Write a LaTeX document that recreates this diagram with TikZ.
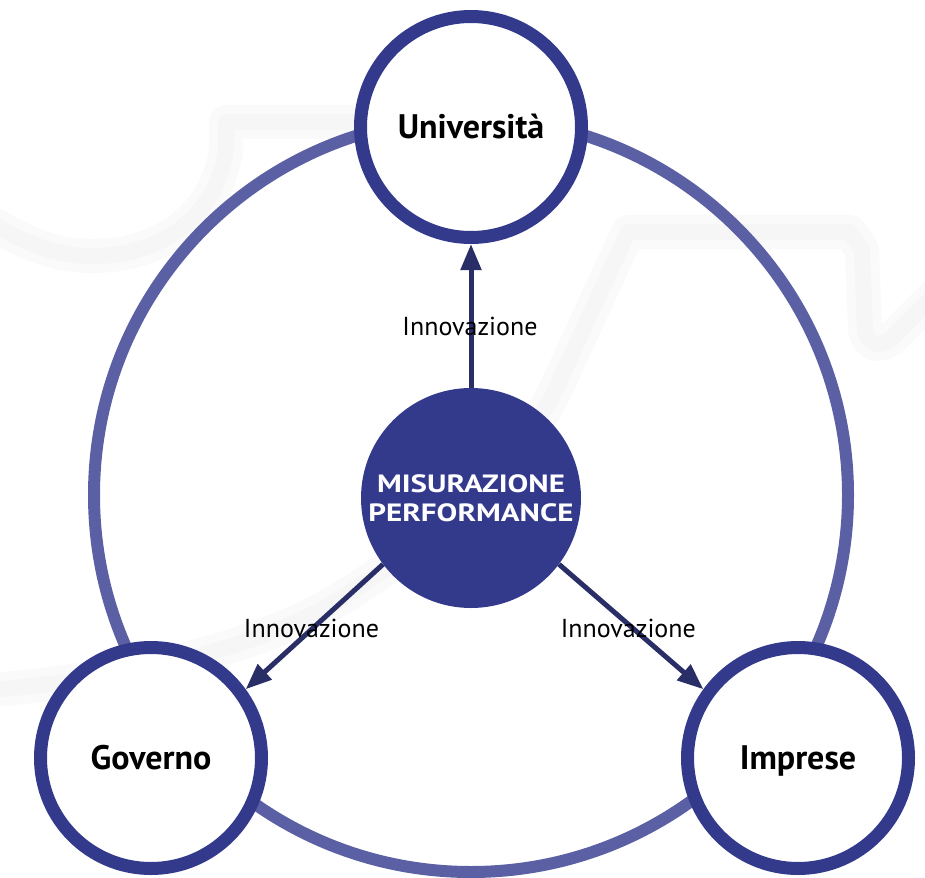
\documentclass[tikz,border=0pt]{standalone}
\usepackage{fontspec}
\usepackage{graphicx}
\setmainfont{PT Sans}
\usetikzlibrary{arrows.meta}
\definecolor{nodeblue}{HTML}{333A8C}
\definecolor{ringblue}{HTML}{5A60A3}
\definecolor{arrowblue}{HTML}{2A2E66}
\begin{document}
\begin{tikzpicture}[x=1pt,y=-1pt,
  party/.style={circle, draw=nodeblue, line width=13pt, fill=white, minimum size=221pt, inner sep=0pt, text height=23pt, text depth=0pt, font=\bfseries\fontsize{34}{38}\selectfont},
  core/.style={circle, fill=nodeblue, minimum size=220pt, inner sep=0pt, text=white, font=\bfseries\fontsize{25}{29}\selectfont, align=center},
  flow/.style={draw=arrowblue, line width=5pt, -{Triangle[length=26pt,width=20pt]}},
  lbl/.style={font=\fontsize{26}{30}\selectfont, text=black, anchor=base},
  shade1/.style={draw=black!2, line width=34pt, line cap=round, line join=round},
  shade2/.style={draw=black!3.5, line width=16pt, line cap=round, line join=round}
]
\useasboundingbox (0,0) rectangle (925,877);
% faint background watermark
\foreach \s in {shade1,shade2}{
  \draw[\s] (365,122) -- (226,122) -- (226,150) .. controls (215,225) and (150,258) .. (87,256) .. controls (50,255) and (20,240) .. (-10,222);
  \draw[\s] (-10,690) .. controls (120,680) and (250,650) .. (330,605) .. controls (430,545) and (520,470) .. (560,380) -- (628,232) -- (850,232) -- (862,250) -- (865,330) .. controls (868,345) and (880,350) .. (895,335) -- (935,295);
}
\draw[ringblue, line width=12pt] (471,495) circle[radius=377pt];
\node[party] (U) at (471,127) {Università};
\node[party] (G) at (151,758) {Governo};
\node[party] (I) at (798,758) {Imprese};
\node[core] (C) at (471,498) {\scalebox{1.24}[1]{MISURAZIONE}\\\scalebox{1.24}[1]{PERFORMANCE}};
\draw[flow] (C.north) -- (U.south);
\draw[flow] (C.217) -- (G.36);
\draw[flow] (C.-37) -- (I.144);
\node[lbl] (L1) at (470,335) {Innovazione};
\node[lbl] (L2) at (311.5,637) {Innovazione};
\node[lbl] (L3) at (628.3,637) {Innovazione};
\end{tikzpicture}
\end{document}
